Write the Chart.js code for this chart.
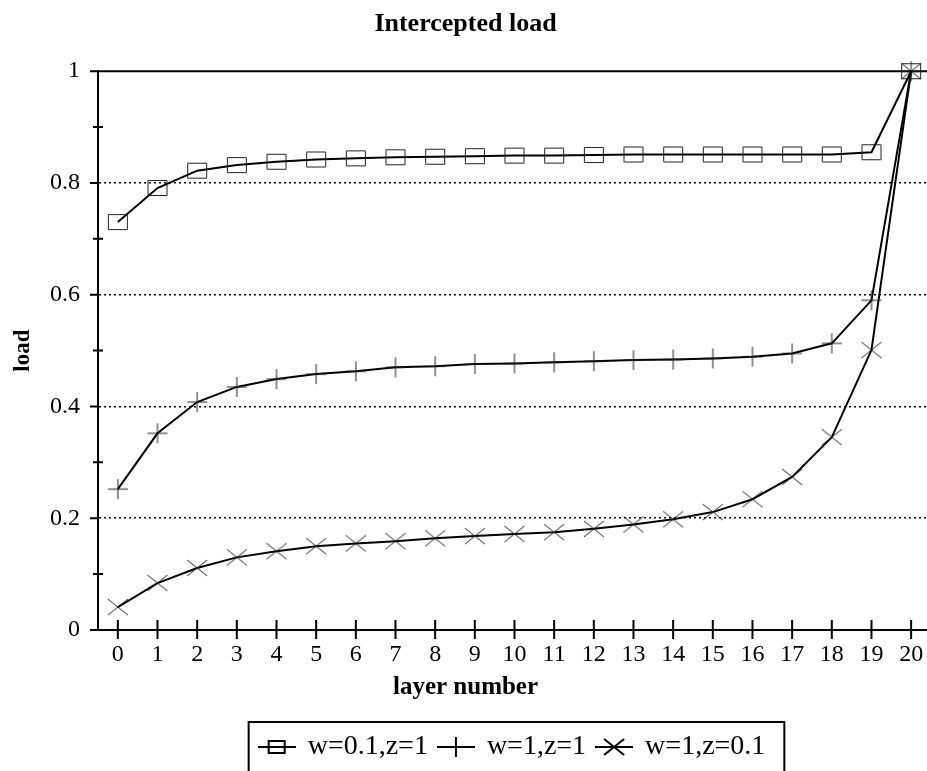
<!DOCTYPE html>
<html lang="en">
<head>
    <meta charset="UTF-8">
    <title>Intercepted load</title>
    <script src="https://cdn.jsdelivr.net/npm/chart.js"></script>
    <style>
        body { margin: 0; background: #fff; }
    </style>
</head>
<body>
    <canvas id="loadChart" width="927" height="771"></canvas>
    <script>
        // layer numbers on the x axis
        const layers = [0, 1, 2, 3, 4, 5, 6, 7, 8, 9, 10, 11, 12, 13, 14, 15, 16, 17, 18, 19, 20];
        const seriesNames = ['w=0.1,z=1', 'w=1,z=1', 'w=1,z=0.1'];
        // values
        const loadW01Z1 = [0.730, 0.791, 0.822, 0.832, 0.838, 0.842, 0.844, 0.846, 0.847, 0.848, 0.849, 0.849, 0.850, 0.851, 0.851, 0.851, 0.851, 0.851, 0.851, 0.855, 1.0];
        const loadW1Z1 = [0.252, 0.352, 0.408, 0.435, 0.449, 0.458, 0.463, 0.470, 0.472, 0.476, 0.477, 0.479, 0.481, 0.483, 0.484, 0.486, 0.489, 0.495, 0.513, 0.590, 1.0];
        const loadW1Z01 = [0.041, 0.084, 0.111, 0.130, 0.141, 0.150, 0.155, 0.159, 0.164, 0.168, 0.172, 0.175, 0.181, 0.189, 0.198, 0.211, 0.234, 0.274, 0.345, 0.501, 1.0];
        const yLabels = ['0', '0.2', '0.4', '0.6', '0.8', '1'];

        Chart.defaults.font.family = '"Liberation Serif", "Times New Roman", serif';
        Chart.defaults.color = '#000';

        // marker drawings (open box, plus, x), optionally with a line through them for the legend
        function makeMarker(kind, withLine) {
            const c = document.createElement('canvas');
            c.width = withLine ? 38 : 22;
            c.height = 22;
            const g = c.getContext('2d');
            const cx = c.width / 2, cy = c.height / 2;
            if (withLine) {
                g.strokeStyle = '#000';
                g.lineWidth = 2;
                g.beginPath(); g.moveTo(0, cy); g.lineTo(c.width, cy); g.stroke();
            }
            g.strokeStyle = withLine ? '#000' : '#222';
            g.lineWidth = withLine ? 2 : 1;
            g.beginPath();
            if (kind === 'box') {
                if (withLine) g.rect(cx - 8, cy - 6, 16, 12);
                else g.rect(cx - 9.5, cy - 7.5, 19, 15);
            } else if (kind === 'plus') {
                g.moveTo(cx - 10, cy); g.lineTo(cx + 10, cy);
                g.moveTo(cx, cy - 10); g.lineTo(cx, cy + 10);
            } else {
                g.moveTo(cx - 10, cy - 8); g.lineTo(cx + 10, cy + 8);
                g.moveTo(cx - 10, cy + 8); g.lineTo(cx + 10, cy - 8);
            }
            g.stroke();
            return c;
        }

        const markers = [makeMarker('box'), makeMarker('plus'), makeMarker('x')];
        const legendMarkers = [makeMarker('box', true), makeMarker('plus', true), makeMarker('x', true)];

        const frameAndTicks = {
            id: 'frameAndTicks',
            beforeDatasetsDraw(chart) {
                const { ctx, chartArea, scales } = chart;
                ctx.save();
                ctx.strokeStyle = '#000';
                ctx.lineWidth = 2;
                ctx.beginPath();
                ctx.moveTo(chartArea.left, chartArea.top);
                ctx.lineTo(chartArea.right, chartArea.top);
                ctx.stroke();
                ctx.beginPath();
                scales.x.ticks.forEach(t => {
                    const px = scales.x.getPixelForValue(t.value);
                    ctx.moveTo(px, chartArea.bottom - 10);
                    ctx.lineTo(px, chartArea.bottom + 9);
                });
                scales.y.ticks.forEach(t => {
                    const py = scales.y.getPixelForValue(t.value);
                    const major = Math.round(t.value * 10) % 2 === 0;
                    if (major) {
                        ctx.moveTo(chartArea.left - 8, py);
                        ctx.lineTo(chartArea.left, py);
                    } else {
                        ctx.moveTo(chartArea.left - 5, py);
                        ctx.lineTo(chartArea.left + 5, py);
                    }
                });
                ctx.stroke();
                ctx.restore();
            },
            afterDraw(chart) {
                const boxes = chart.legend.legendHitBoxes;
                if (!boxes || !boxes.length) return;
                const ctx = chart.ctx;
                const left = Math.min(...boxes.map(b => b.left)) - 11;
                const right = Math.max(...boxes.map(b => b.left + b.width)) + 19;
                const top = chart.legend.top;
                ctx.save();
                ctx.strokeStyle = '#000';
                ctx.lineWidth = 2;
                ctx.strokeRect(left, top, right - left, chart.height - top + 5);
                ctx.restore();
            }
        };

        function lineDataset(i, values) {
            return {
                label: seriesNames[i],
                data: layers.map((x, k) => ({ x: x, y: values[k] })),
                borderColor: '#000',
                backgroundColor: 'transparent',
                borderWidth: 2,
                pointStyle: markers[i],
                pointRadius: 10,
                tension: 0,
                clip: false
            };
        }

        new Chart(document.getElementById('loadChart'), {
            type: 'line',
            data: {
                datasets: [
                    lineDataset(0, loadW01Z1),
                    lineDataset(1, loadW1Z1),
                    lineDataset(2, loadW1Z01)
                ]
            },
            options: {
                responsive: false,
                animation: false,
                layout: { autoPadding: false, padding: { left: 4, right: 0, top: 0, bottom: 0 } },
                scales: {
                    x: {
                        type: 'linear',
                        min: -0.5,
                        max: 20.4,
                        afterBuildTicks: scale => {
                            scale.ticks = layers.map(v => ({ value: v }));
                        },
                        afterFit: scale => {
                            scale.height = 39;
                            scale.paddingRight = 0;
                            scale.paddingLeft = 0;
                        },
                        ticks: {
                            stepSize: 1,
                            padding: 10,
                            autoSkip: false,
                            maxRotation: 0,
                            font: { size: 24 },
                            callback: v => String(v)
                        },
                        grid: { drawOnChartArea: false, drawTicks: false },
                        border: { color: '#000', width: 2 }
                    },
                    y: {
                        min: 0,
                        max: 1,
                        afterFit: scale => {
                            scale.width = 94;
                        },
                        ticks: {
                            stepSize: 0.1,
                            padding: 18,
                            font: { size: 24 },
                            callback: v => {
                                const k = Math.round(v * 10);
                                return k % 2 === 0 ? yLabels[k / 2] : '';
                            }
                        },
                        grid: {
                            drawTicks: false,
                            lineWidth: 1.5,
                            color: ctx => {
                                const k = Math.round(ctx.tick.value * 10);
                                return (k > 0 && k < 10 && k % 2 === 0) ? '#000' : 'rgba(0,0,0,0)';
                            }
                        },
                        border: { color: '#000', width: 2, dash: [2, 3] },
                        title: {
                            display: true,
                            text: 'load',
                            font: { size: 23, weight: 'bold' },
                            padding: { top: 5, bottom: 14 }
                        }
                    }
                },
                plugins: {
                    title: {
                        display: true,
                        text: 'Intercepted load',
                        font: { size: 26, weight: 'bold' },
                        padding: { top: 9, bottom: 31 }
                    },
                    subtitle: {
                        display: true,
                        position: 'bottom',
                        weight: 500,
                        text: 'layer number',
                        font: { size: 25, weight: 'bold' },
                        padding: { top: 4, bottom: 19 }
                    },
                    legend: {
                        position: 'bottom',
                        fullSize: false,
                        labels: {
                            usePointStyle: true,
                            pointStyleWidth: 34,
                            boxWidth: 34,
                            boxHeight: 22,
                            padding: 11,
                            font: { size: 28 },
                            generateLabels: chart => chart.data.datasets.map((ds, i) => ({
                                text: ds.label,
                                pointStyle: legendMarkers[i],
                                fillStyle: 'transparent',
                                strokeStyle: '#000',
                                lineWidth: 0,
                                fontColor: '#000',
                                datasetIndex: i
                            }))
                        }
                    },
                    tooltip: { enabled: false }
                }
            },
            plugins: [frameAndTicks]
        });
    </script>
</body>
</html>
